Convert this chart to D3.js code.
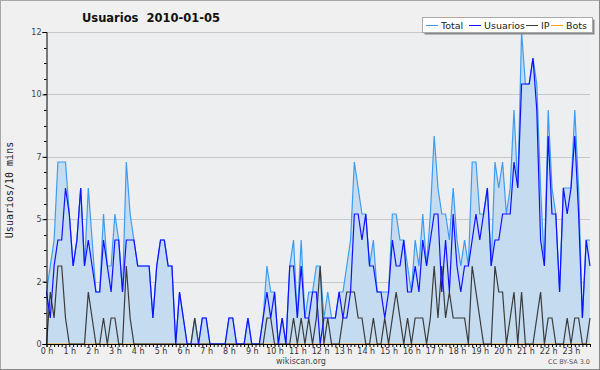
<!DOCTYPE html>
<html><head><meta charset="utf-8">
<script src="https://cdn.jsdelivr.net/npm/d3@7/dist/d3.min.js"></script>
<style>body{margin:0;background:#f0f0f0} svg{display:block}</style>
</head><body><svg id="c" width="600" height="370"></svg>
<script>
const titleText = "Usuarios  2010-01-05";
const yLabel = "Usuarios/10 mins";
const hourLabels = ["0 h","1 h","2 h","3 h","4 h","5 h","6 h","7 h","8 h","9 h","10 h","11 h","12 h","13 h","14 h","15 h","16 h","17 h","18 h","19 h","20 h","21 h","22 h","23 h"];
const yTickValues = [0, 2.4, 4.8, 7.2, 9.6, 12];
const yTickLabels = ["0","2","5","7","10","12"];
const seriesNames = ["Total","Usuarios","IP","Bots"];
const seriesColors = ["#3d9cf0","#1010ff","#3a3a3a","#ffa010"];

const total = [2,3,4,7,7,7,5,3,4,6,3,6,4,2,2,5,3,3,5,4,2,7,5,4,
3,3,3,3,1,3,4,4,3,3,0,2,1,0,0,1,0,1,1,0,0,0,0,0,
1,1,0,0,0,1,0,0,0,1,3,2,2,0,1,0,3,4,1,4,1,2,2,3,
3,1,2,1,1,2,2,3,4,7,6,5,5,3,4,2,2,2,2,5,5,4,4,3,
2,4,3,5,3,5,8,6,5,5,4,6,4,3,4,3,7,7,5,5,6,3,7,6,
7,5,6,9,6,12,10,10,11,10,6,3,9,6,5,2,6,6,6,9,6,1,4,4];
const usuarios = [2,1,3,4,4,6,5,3,4,6,3,4,3,2,2,4,3,2,4,4,2,4,4,4,
3,3,3,3,1,3,4,4,3,3,0,2,1,0,0,0,0,1,1,0,0,0,0,0,
1,1,0,0,0,1,0,0,0,1,2,1,2,0,1,0,3,3,1,3,1,1,2,2,
0,1,1,1,1,2,1,1,2,5,5,4,5,3,3,2,2,1,2,4,3,3,4,2,
2,3,2,4,3,4,5,5,2,4,2,5,3,2,3,3,4,5,4,5,6,3,4,4,
5,5,5,7,6,10,10,10,11,9,4,3,8,5,5,2,6,5,6,8,5,1,4,3];
const ip = [0,2,1,3,3,1,0,0,0,0,0,2,1,0,0,1,0,1,1,0,0,3,1,0,
0,0,0,0,0,0,0,0,0,0,0,0,0,0,0,1,0,0,0,0,0,0,0,0,
0,0,0,0,0,0,0,0,0,0,1,1,0,0,0,0,0,1,0,1,0,1,0,1,
3,0,1,0,0,0,1,2,2,2,1,1,0,0,1,0,0,1,0,1,2,1,0,1,
0,1,1,1,0,1,3,1,3,1,2,1,1,1,1,0,3,2,1,0,0,0,3,2,
2,0,1,2,0,2,0,0,0,1,2,0,1,1,0,0,0,1,0,1,1,0,0,1];
const bots = [0,0,0,0,0,0,0,0,0,0,0,0,0,0,0,0,0,0,0,0,0,0,0,0,
0,0,0,0,0,0,0,0,0,0,0,0,0,0,0,0,0,0,0,0,0,0,0,0,
0,0,0,0,0,0,0,0,0,0,0,0,0,0,0,0,0,0,0,0,0,0,0,0,
0,0,0,0,0,0,0,0,0,0,0,0,0,0,0,0,0,0,0,0,0,0,0,0,
0,0,0,0,0,0,0,0,0,0,0,0,0,0,0,0,0,0,0,0,0,0,0,0,
0,0,0,0,0,0,0,0,0,0,0,0,0,0,0,0,0,0,0,0,0,0,0,0];

const svg = d3.select("#c");
const L = 46.5, R = 590, T = 32, B = 344;
const x = d3.scaleLinear().domain([0, total.length - 1]).range([L, R]);
const y = d3.scaleLinear().domain([0, 12]).range([B, T]);

// frame
svg.append("rect").attr("x",0.5).attr("y",0.5).attr("width",599).attr("height",369)
  .attr("fill","#f0f0f0").attr("stroke","#a8a8a8");
svg.append("line").attr("x1",599.5).attr("x2",599.5).attr("y1",0).attr("y2",370).attr("stroke","#888");
svg.append("line").attr("x1",0).attr("x2",600).attr("y1",369.5).attr("y2",369.5).attr("stroke","#888");

// plot background
svg.append("rect").attr("x",L).attr("y",T).attr("width",R-L).attr("height",B-T).attr("fill","#edeef0");

// grid
svg.append("g").selectAll("line").data(yTickValues.slice(1)).join("line")
  .attr("x1",L).attr("x2",R).attr("y1",d=>Math.round(y(d))+0.5).attr("y2",d=>Math.round(y(d))+0.5)
  .attr("stroke","#c8c8c8").attr("stroke-width",1);

// area + lines
const idx = (d,i)=>x(i);
svg.append("path").datum(total)
  .attr("d", d3.area().x(idx).y0(y(0)).y1(d=>y(d)))
  .attr("fill","#c5dcf0");
const line = d3.line().x(idx).y(d=>y(d));
const drawOrder = [[bots,3],[total,0],[ip,2],[usuarios,1]];
drawOrder.forEach(([arr,k])=>{
  svg.append("path").datum(arr).attr("d",line).attr("fill","none")
    .attr("stroke",seriesColors[k]).attr("stroke-width",1.2).attr("stroke-linejoin","miter");
});

// Y axis
const yAxis = d3.axisLeft(y).tickValues(yTickValues).tickSize(4).tickFormat((d,i)=>yTickLabels[i]);
const gy = svg.append("g").attr("transform",`translate(${L},0)`).call(yAxis);
gy.select(".domain").attr("stroke","#000");
gy.selectAll(".tick line").attr("stroke","#000");
gy.selectAll(".tick text").attr("font-family","DejaVu Sans").attr("font-size",8).attr("fill","#444").attr("x",-5);
// minor y ticks
const minorY = d3.range(0, 12.001, 0.6);
svg.append("g").selectAll("line").data(minorY).join("line")
  .attr("x1",L-2.5).attr("x2",L).attr("y1",d=>Math.round(y(d))+0.5).attr("y2",d=>Math.round(y(d))+0.5)
  .attr("stroke","#000");

// X axis
const xAxis = d3.axisBottom(x).tickValues(d3.range(0,total.length)).tickSize(3)
  .tickFormat(i => i % 6 === 0 ? hourLabels[i/6] : "");
const gx = svg.append("g").attr("transform",`translate(0,${B})`).call(xAxis);
gx.select(".domain").attr("stroke","#000");
gx.selectAll(".tick line").attr("stroke","#000");
gx.selectAll(".tick text").attr("font-family","DejaVu Sans").attr("font-size",8).attr("fill","#333").attr("y",4).attr("dy","0.71em");

// title
svg.append("text").attr("x",151).attr("y",22).attr("text-anchor","middle")
  .attr("font-family","DejaVu Sans").attr("font-weight","bold").attr("font-size",11.5)
  .attr("fill","#111").attr("xml:space","preserve").style("white-space","pre").text(titleText);

// y label
svg.append("text").attr("transform","translate(13,190) rotate(-90)").attr("text-anchor","middle")
  .attr("font-family","DejaVu Sans Mono").attr("font-size",10).attr("fill","#222").text(yLabel);

// footer
svg.append("text").attr("x",301).attr("y",364).attr("text-anchor","middle")
  .attr("font-family","DejaVu Sans").attr("font-size",8).attr("fill","#444").text("wikiscan.org");
svg.append("text").attr("x",590).attr("y",364).attr("text-anchor","end")
  .attr("font-family","DejaVu Sans").attr("font-size",6.5).attr("fill","#555").text("CC BY-SA 3.0");

// legend
const legendLineX = [426, 469, 526, 551];
const lg = svg.append("g");
lg.append("rect").attr("x",424.5).attr("y",19.5).attr("width",170).attr("height",15).attr("fill","#888");
lg.append("rect").attr("x",422.5).attr("y",17.5).attr("width",170).attr("height",15).attr("fill","#fff").attr("stroke","#aaa");
seriesNames.forEach((name,k)=>{
  const cx = legendLineX[k];
  lg.append("line").attr("x1",cx).attr("x2",cx+12).attr("y1",25.5).attr("y2",25.5)
    .attr("stroke",seriesColors[k]).attr("stroke-width",1);
  lg.append("text").attr("x",cx+15).attr("y",29)
    .attr("font-family","DejaVu Sans").attr("font-size",9.5).attr("fill","#222").text(name);
});
</script>
</body></html>
